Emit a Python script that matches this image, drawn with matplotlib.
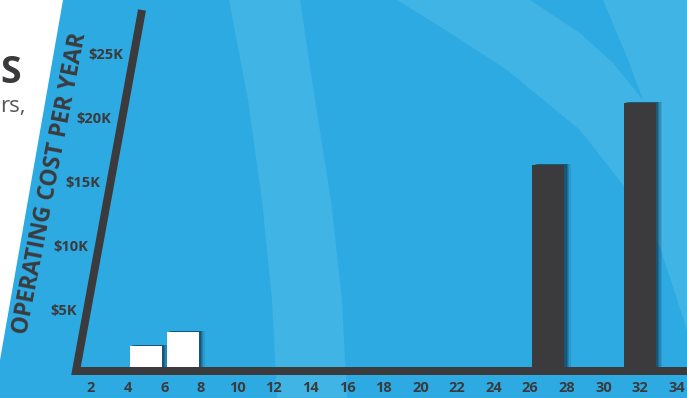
import matplotlib
matplotlib.use("Agg")
import matplotlib.pyplot as plt
from matplotlib.patches import Polygon, Rectangle
import matplotlib.patheffects as pe

# ---- data ----
light_x = [5, 7]
light_vals = [2300, 3350]
dark_x = [27, 32]
dark_vals = [16400, 21250]
xtick_vals = list(range(2, 35, 2))
ytick_vals = [5000, 10000, 15000, 20000, 25000]
ytick_labels = ["$5K", "$10K", "$15K", "$20K", "$25K"]
y_title = "OPERATING COST PER YEAR"

BLUE = "#2daae2"
LIGHT = "#41b4e6"
DARK = "#3b3b3d"
FONT = "Open Sans"

W, H = 687, 398
fig = plt.figure(figsize=(W / 100, H / 100), dpi=100)

# background (pixel coordinates)
bg = fig.add_axes([0, 0, 1, 1])
bg.set_xlim(0, W)
bg.set_ylim(H, 0)
bg.axis("off")
bg.add_patch(Rectangle((0, 0), W, H, color=BLUE, zorder=0))
band1 = [(229, 0), (248, 100), (262, 200), (272, 300), (277, 398),
         (347, 398), (342, 300), (331, 200), (315, 100), (300, 0)]
bg.add_patch(Polygon(band1, closed=True, color=LIGHT, lw=0, zorder=1))
band2 = [(397, 0), (447, 31), (507, 70), (580, 130), (627, 190), (660, 247),
         (687, 330), (687, 0), (603, 0), (627, 57), (643, 100), (613, 63),
         (580, 33), (530, 0)]
bg.add_patch(Polygon(band2, closed=True, color=LIGHT, lw=0, zorder=1))
bg.add_patch(Polygon([(0, 0), (63, 0), (0, 360)], closed=True, color="white", lw=0, zorder=2))
bg.text(0.5, 83, "S", ha="left", va="baseline", fontsize=27, fontweight="bold",
        color="#3a3a3c", family=FONT, zorder=3)
bg.text(0.5, 112, "rs,", ha="left", va="baseline", fontsize=16,
        color="#555558", family=FONT, zorder=3)
bg.text(50, 183, y_title, rotation=79, ha="center", va="center", fontsize=16.5,
        fontweight="bold", color=DARK, family=FONT, zorder=3)

# data axes: x 0 at px 54.4, 18.3 px/unit; y 0 at px 375, 12.8 px per 1000
px_per_x = 18.3
x0_px = 54.4
px_per_y = 12.8 / 1000
y0_px = 375
left_px = 73
ax = fig.add_axes([left_px / W, (H - y0_px) / H, 1 - left_px / W, y0_px / H])
ax.set_xlim((left_px - x0_px) / px_per_x, (W - x0_px) / px_per_x)
ax.set_ylim(0, y0_px / px_per_y)
ax.patch.set_alpha(0)
for s in ax.spines.values():
    s.set_visible(False)

def shadow_effects():
    effs = []
    for d, a in [(4.5, 0.12), (3.5, 0.18), (2.5, 0.25), (1.5, 0.35)]:
        effs.append(pe.SimplePatchShadow(offset=(d, 0.6), shadow_rgbFace="#0b2a3d", alpha=a))
    effs.append(pe.Normal())
    return effs

bw = 32 / px_per_x
b1 = ax.bar(light_x, light_vals, width=bw, color="white", zorder=3)
b2 = ax.bar(dark_x, dark_vals, width=bw, color=DARK, zorder=3)
for b in list(b1) + list(b2):
    b.set_path_effects(shadow_effects())

# axis lines (slanted y axis + baseline)
xb = (76 - x0_px) / px_per_x
yb = (y0_px - 371) / px_per_y
xt = (142 - x0_px) / px_per_x
yt = (y0_px - 10) / px_per_y
xr = (W + 10 - x0_px) / px_per_x
ax.plot([xt, xb, xr], [yt, yb, yb], color=DARK, lw=8 * 0.72, solid_joinstyle="miter",
        solid_capstyle="butt", clip_on=False, zorder=5)

# x ticks
ax.set_xticks(xtick_vals)
ax.set_xticklabels([str(v) for v in xtick_vals], fontsize=10.5, fontweight="bold",
                   color=DARK, family=FONT)
ax.tick_params(axis="x", length=0, pad=4.5)
ax.set_yticks([])

# y tick labels along slanted axis
for v, lab in zip(ytick_vals, ytick_labels):
    xa = xb + (v - yb) * (xt - xb) / (yt - yb)
    ax.text(xa - 10.5 / px_per_x, v, lab, ha="right", va="center", fontsize=10.5,
            fontweight="bold", color=DARK, family=FONT, clip_on=False)

fig.savefig("out.png", dpi=100)
